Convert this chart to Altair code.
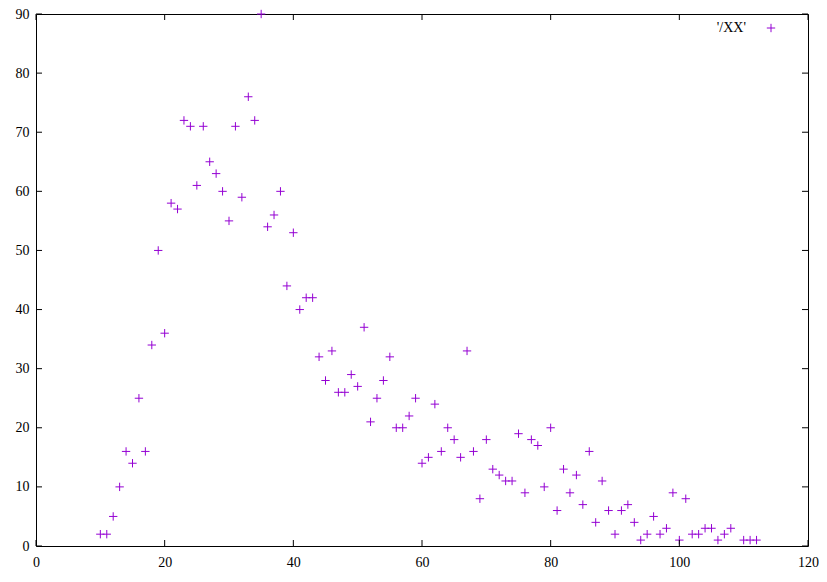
import altair as alt
import pandas as pd

# data
xs = [10, 11, 12, 13, 14, 15, 16, 17, 18, 19, 20, 21, 22, 23, 24, 25, 26, 27, 28, 29,
      30, 31, 32, 33, 34, 35, 36, 37, 38, 39, 40, 41, 42, 43, 44, 45, 46, 47, 48, 49,
      50, 51, 52, 53, 54, 55, 56, 57, 58, 59, 60, 61, 62, 63, 64, 65, 66, 67, 68, 69,
      70, 71, 72, 73, 74, 75, 76, 77, 78, 79, 80, 81, 82, 83, 84, 85, 86, 87, 88, 89,
      90, 91, 92, 93, 94, 95, 96, 97, 98, 99, 100, 101, 102, 103, 104, 105, 106, 107, 108,
      110, 111, 112]
ys = [2, 2, 5, 10, 16, 14, 25, 16, 34, 50, 36, 58, 57, 72, 71, 61, 71, 65, 63, 60,
      55, 71, 59, 76, 72, 90, 54, 56, 60, 44, 53, 40, 42, 42, 32, 28, 33, 26, 26, 29,
      27, 37, 21, 25, 28, 32, 20, 20, 22, 25, 14, 15, 24, 16, 20, 18, 15, 33, 16, 8,
      18, 13, 12, 11, 11, 19, 9, 18, 17, 10, 20, 6, 13, 9, 12, 7, 16, 4, 11, 6,
      2, 6, 7, 4, 1, 2, 5, 2, 3, 9, 1, 8, 2, 2, 3, 3, 1, 2, 3,
      1, 1, 1]
x_ticks = [0, 20, 40, 60, 80, 100, 120]
y_ticks = [0, 10, 20, 30, 40, 50, 60, 70, 80, 90]
series_name = "'/XX'"

W, H = 772, 532
COLOR = "#9400D3"
FONT = "Liberation Serif"
PLUS = "M-1,0L1,0M0,-1L0,1"

df = pd.DataFrame({"x": xs, "y": ys})
xt = pd.DataFrame({"x": x_ticks})
yt = pd.DataFrame({"y": y_ticks})

xscale = alt.Scale(domain=[0, 120], nice=False, zero=False)
yscale = alt.Scale(domain=[0, 90], nice=False, zero=False)
xaxis = alt.Axis(values=x_ticks, tickSize=0, domain=False, grid=False,
                 labelPadding=9, labelFont=FONT, labelFontSize=14,
                 labelColor="black", labelFlush=False)
yaxis = alt.Axis(values=y_ticks, tickSize=0, domain=False, grid=False,
                 labelPadding=7, labelFont=FONT, labelFontSize=14,
                 labelColor="black", labelFlush=False)
X = lambda: alt.X("x:Q", scale=xscale, title=None, axis=xaxis)
Y = lambda: alt.Y("y:Q", scale=yscale, title=None, axis=yaxis)

points = alt.Chart(df).mark_point(
    shape=PLUS, filled=False, stroke=COLOR, strokeWidth=1, size=70, opacity=1
).encode(x=X(), y=Y())

TL = 6
xt_bottom = alt.Chart(xt).mark_rule(color="black", strokeWidth=1).encode(
    x=X(), y=alt.value(H), y2=alt.value(H - TL))
xt_top = alt.Chart(xt).mark_rule(color="black", strokeWidth=1).encode(
    x=X(), y=alt.value(0), y2=alt.value(TL))
yt_left = alt.Chart(yt).mark_rule(color="black", strokeWidth=1).encode(
    y=Y(), x=alt.value(0), x2=alt.value(TL))
yt_right = alt.Chart(yt).mark_rule(color="black", strokeWidth=1).encode(
    y=Y(), x=alt.value(W), x2=alt.value(W - TL))

leg = pd.DataFrame({"name": [series_name]})
leg_text = alt.Chart(leg).mark_text(
    align="right", baseline="middle", font=FONT, fontSize=14, color="black"
).encode(text="name:N", x=alt.value(710), y=alt.value(14))
leg_sym = alt.Chart(leg).mark_point(
    shape=PLUS, filled=False, stroke=COLOR, strokeWidth=1, size=70, opacity=1
).encode(x=alt.value(735), y=alt.value(14))

chart = alt.layer(points, xt_bottom, xt_top, yt_left, yt_right, leg_text, leg_sym).properties(
    width=W, height=H,
    autosize=alt.AutoSizeParams(type="none"),
    padding={"left": 28, "top": 6, "right": 11, "bottom": 26},
    background="white",
).configure_view(stroke="black", strokeWidth=1).configure_axis(
    labelFont=FONT, labelFontSize=14, labelColor="black"
)

chart.save("out.html", embed_options={"renderer": "svg", "actions": False})
